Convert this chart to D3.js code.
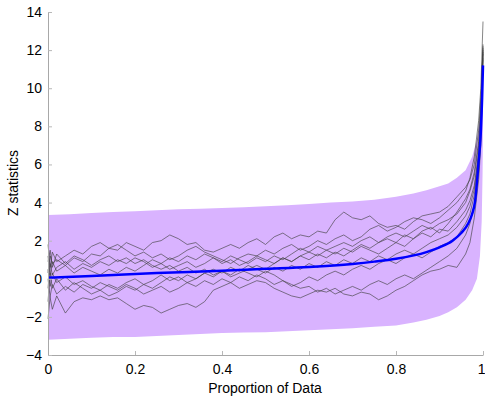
<!DOCTYPE html>
<html>
<head>
<meta charset="utf-8">
<script src="https://cdn.jsdelivr.net/npm/d3@7"></script>
<style>
  body { margin: 0; background: #fff; }
  text { font-family: "Liberation Sans", Arial, sans-serif; }
</style>
</head>
<body>
<div id="chart"></div>
<script>
// x positions shared by the gray walks
var props = [0, 0.005, 0.01, 0.02, 0.04, 0.06, 0.08, 0.10, 0.12, 0.14, 0.16, 0.18, 0.20, 0.22, 0.24, 0.26, 0.28, 0.30,
  0.32, 0.34, 0.36, 0.38, 0.40, 0.42, 0.44, 0.46, 0.48, 0.50, 0.52, 0.54, 0.56, 0.58, 0.60, 0.62, 0.64, 0.66, 0.68,
  0.70, 0.72, 0.74, 0.76, 0.78, 0.80, 0.82, 0.84, 0.86, 0.88, 0.90, 0.92, 0.94, 0.96, 0.97, 0.98, 0.99, 0.995, 1];

var walkA = [0.3, 1.2, 0.8, 1.0, 0.7, 1.1, 0.9, 1.3, 1.2, 1.6, 1.5, 1.9, 1.7, 1.5, 1.9, 2.0, 2.3, 2.1, 1.8, 1.9, 1.5, 1.4,
  1.6, 1.8, 1.6, 1.9, 2.1, 1.8, 2.2, 2.4, 2.1, 2.3, 2.2, 2.5, 2.4, 3.1, 3.5, 3.2, 3.1, 3.3, 2.9, 2.7, 2.8, 2.6, 3.0, 3.3,
  3.4, 3.5, 3.8, 4.3, 4.8, 5.2, 6.0, 7.8, 9.5, 12.0];
var walkB = [0, -1.0, -1.6, -0.9, -1.8, -1.2, -1.0, -1.1, -0.9, -1.1, -1.0, -1.3, -1.6, -1.4, -1.5, -1.8, -1.6, -1.4, -1.3,
  -1.5, -1.2, -0.6, -0.4, -0.2, -0.5, -0.3, -0.1, -0.2, -0.5, -0.7, -0.9, -1.0, -0.8, -0.6, -0.7, -0.5, -0.8, -0.9, -0.7,
  -0.8, -1.1, -0.9, -0.6, -0.4, -0.1, 0.2, 0.4, 0.5, 0.7, 0.6, 1.3, 1.9, 3.2, 5.2, 7.0, 11.6];
var walkC = [1.8, 0.6, 1.4, 0.9, 1.2, 1.5, 1.3, 1.7, 1.9, 1.6, 1.8, 1.5, 1.2, 1.4, 1.1, 1.3, 1.0, 1.2, 1.5, 1.7, 1.4, 1.2,
  1.0, 0.8, 1.1, 1.3, 1.2, 1.5, 1.3, 1.6, 1.8, 1.5, 1.7, 2.0, 1.8, 2.1, 2.3, 2.0, 2.2, 2.6, 2.8, 2.5, 2.7, 3.0, 3.2, 3.1,
  2.9, 3.2, 3.6, 4.0, 4.6, 5.3, 6.4, 8.3, 10.0, 13.5];
var walkD = [-0.5, 0.8, 0.2, 0.6, 0.9, 0.5, 0.8, 0.6, 0.9, 0.7, 1.0, 0.8, 1.1, 0.9, 0.6, 0.8, 0.5, 0.7, 0.9, 0.6, 0.8, 1.1,
  0.9, 1.2, 1.0, 0.8, 1.1, 0.9, 1.2, 1.0, 1.3, 1.6, 1.4, 1.7, 1.5, 1.3, 1.6, 1.4, 1.7, 1.5, 1.3, 1.6, 1.9, 1.7, 2.1, 2.4,
  2.2, 2.6, 2.5, 3.0, 3.6, 4.1, 4.9, 6.6, 8.4, 12.1];
var walkE = [-2.1, -0.9, -0.3, -0.8, -0.4, -0.7, -0.3, -0.5, -0.2, -0.4, -0.6, -0.3, -0.5, -0.8, -0.6, -0.4, -0.7, -0.5,
  -0.2, -0.4, -0.1, -0.3, 0.0, -0.2, 0.1, -0.1, 0.2, 0.0, -0.3, -0.1, -0.4, -0.2, 0.1, -0.1, 0.2, 0.4, 0.2, 0.5, 0.7, 0.5,
  0.8, 1.0, 0.8, 1.1, 1.3, 1.1, 1.4, 1.7, 1.9, 2.2, 2.9, 3.4, 4.4, 6.2, 8.0, 11.8];
var walkF = [0.5, -0.4, 0.3, -0.2, 0.1, -0.3, -0.1, -0.4, -0.6, -0.3, -0.5, -0.2, 0.0, -0.3, -0.1, 0.2, -0.1, 0.1, -0.2,
  0.0, 0.3, 0.1, 0.4, 0.2, 0.5, 0.3, 0.1, 0.4, 0.2, -0.1, -0.3, -0.5, -0.4, -0.7, -0.5, -0.8, -0.6, -0.4, -0.6, -0.3, -0.1,
  -0.3, 0.0, 0.2, 0.0, 0.3, 0.6, 0.9, 1.2, 1.6, 2.3, 2.9, 3.9, 5.6, 7.4, 11.5];
var walkG = [1.2, 0.2, 0.9, 0.4, 0.7, 0.3, 0.6, 0.4, 0.2, 0.5, 0.3, 0.6, 0.4, 0.7, 1.0, 0.8, 1.1, 0.9, 1.2, 1.0, 1.3, 1.1,
  0.8, 1.0, 0.7, 0.9, 1.2, 1.0, 0.8, 1.1, 0.9, 1.2, 1.0, 1.3, 1.1, 1.4, 1.2, 1.5, 1.8, 1.6, 1.9, 2.1, 1.9, 2.3, 2.1, 2.5,
  2.7, 2.4, 2.9, 3.5, 4.2, 4.7, 5.6, 7.2, 9.0, 12.2];
var walkH = [-1.2, 0.3, -0.5, 0.0, -0.6, -0.2, -0.5, -0.8, -0.6, -0.9, -0.7, -0.4, -0.6, -0.3, -0.5, -0.2, 0.1, -0.1, 0.2,
  0.0, 0.3, 0.5, 0.3, 0.6, 0.4, 0.7, 0.5, 0.3, 0.6, 0.4, 0.7, 0.5, 0.8, 0.6, 0.9, 0.7, 1.0, 0.8, 1.1, 0.9, 1.2, 1.0, 1.3,
  1.5, 1.3, 1.6, 1.9, 2.1, 2.3, 2.7, 3.3, 3.8, 4.7, 6.5, 8.2, 11.9];
var walkI = [0.9, 1.5, 0.6, 1.3, 0.8, 1.2, 1.0, 0.7, 1.0, 1.2, 0.9, 1.1, 0.8, 1.0, 0.7, 0.5, 0.7, 0.4, 0.6, 0.3, 0.5, 0.2,
  0.4, 0.1, 0.3, 0.5, 0.7, 0.5, 0.8, 1.1, 0.9, 1.2, 1.4, 1.2, 1.5, 1.7, 1.9, 1.7, 2.0, 2.2, 1.9, 2.2, 2.4, 2.2, 2.5, 2.8,
  2.6, 2.9, 3.1, 3.4, 4.0, 4.6, 5.4, 7.0, 8.8, 12.3];
var walks = [walkA, walkB, walkC, walkD, walkE, walkF, walkG, walkH, walkI];

// purple band
var bandP = [0, 0.05, 0.1, 0.15, 0.2, 0.25, 0.3, 0.35, 0.4, 0.45, 0.5, 0.55, 0.6, 0.65, 0.7, 0.75, 0.8, 0.84, 0.87, 0.9,
  0.92, 0.94, 0.96, 0.975, 0.986, 0.993, 0.997, 0.999, 1];
var bandHi = [3.35, 3.38, 3.45, 3.5, 3.55, 3.6, 3.65, 3.68, 3.72, 3.76, 3.8, 3.86, 3.92, 4.0, 4.06, 4.15, 4.3, 4.48, 4.65,
  4.85, 5.0, 5.3, 5.7, 6.4, 7.3, 8.5, 10.0, 11.0, 11.3];
var bandLo = [-3.2, -3.15, -3.1, -3.05, -3.05, -3.0, -2.95, -2.9, -2.85, -2.82, -2.8, -2.75, -2.7, -2.65, -2.6, -2.52,
  -2.45, -2.3, -2.15, -1.95, -1.75, -1.5, -1.1, -0.6, 0.0, 1.2, 3.0, 5.5, 8.0];

// blue mean curve
var blueP = [0, 0.1, 0.25, 0.4, 0.5, 0.6, 0.7, 0.75, 0.8, 0.87, 0.9, 0.93, 0.95, 0.966, 0.975, 0.982, 0.989, 0.995, 0.998, 1];
var blueV = [0.05, 0.15, 0.3, 0.42, 0.52, 0.62, 0.78, 0.9, 1.05, 1.4, 1.65, 2.0, 2.4, 2.9, 3.4, 4.1, 5.9, 7.7, 9.5, 11.2];

var xTicks = [0, 0.2, 0.4, 0.6, 0.8, 1];
var yTicks = [-4, -2, 0, 2, 4, 6, 8, 10, 12, 14];

var width = 485, height = 403;

var svgCanvas = d3.select("#chart")
  .append("svg")
  .attr("width", width)
  .attr("height", height);

var xScale = d3.scaleLinear().domain([0, 1]).range([48, 483]);
var yScale = d3.scaleLinear().domain([-4, 14]).range([355, 12]);

// band
var bandData = bandP.map(function(p, i) { return { p: p, hi: bandHi[i], lo: bandLo[i] }; });
svgCanvas.append("path")
  .datum(bandData)
  .attr("fill", "#d9b3ff")
  .attr("stroke", "none")
  .attr("d", d3.area()
    .x(function(d) { return xScale(d.p); })
    .y0(function(d) { return yScale(d.lo); })
    .y1(function(d) { return yScale(d.hi); }));

// gray walks
var walkLine = d3.line()
  .x(function(d, i) { return xScale(props[i]); })
  .y(function(d) { return yScale(d); });

svgCanvas.selectAll(".walk")
  .data(walks)
  .enter()
  .append("path")
  .attr("class", "walk")
  .attr("fill", "none")
  .attr("stroke", "#404040")
  .attr("stroke-opacity", 0.8)
  .attr("stroke-width", 0.8)
  .attr("d", walkLine);

// blue line
svgCanvas.append("path")
  .datum(blueV)
  .attr("fill", "none")
  .attr("stroke", "#0000ff")
  .attr("stroke-width", 2.5)
  .attr("d", d3.line()
    .curve(d3.curveMonotoneX)
    .x(function(d, i) { return xScale(blueP[i]); })
    .y(function(d) { return yScale(d); }));

// axes
var xAxis = svgCanvas.append("g")
  .attr("transform", "translate(0,355)")
  .call(d3.axisBottom(xScale).tickValues(xTicks).tickFormat(d3.format("")).tickSizeInner(-4).tickSizeOuter(0).tickPadding(9));
var yAxis = svgCanvas.append("g")
  .attr("transform", "translate(48,0)")
  .call(d3.axisLeft(yScale).tickValues(yTicks).tickSizeInner(-4).tickSizeOuter(0).tickPadding(6));

[xAxis, yAxis].forEach(function(ax) {
  ax.select(".domain").attr("stroke", "#a8a8a8");
  ax.selectAll(".tick line").attr("stroke", "#b8b8b8");
  ax.selectAll(".tick text")
    .attr("fill", "#000")
    .style("font-size", "14px")
    .style("font-family", "'Liberation Sans', Arial, sans-serif");
});

// last x label sits at the window edge; keep it inside
xAxis.selectAll(".tick text")
  .filter(function(d) { return d === 1; })
  .attr("text-anchor", "end")
  .attr("x", 2);

svgCanvas.append("text")
  .attr("x", 265)
  .attr("y", 393)
  .attr("text-anchor", "middle")
  .style("font-size", "14px")
  .text("Proportion of Data");

svgCanvas.append("text")
  .attr("transform", "translate(18,183) rotate(-90)")
  .attr("text-anchor", "middle")
  .style("font-size", "14px")
  .text("Z statistics");
</script>
</body>
</html>
